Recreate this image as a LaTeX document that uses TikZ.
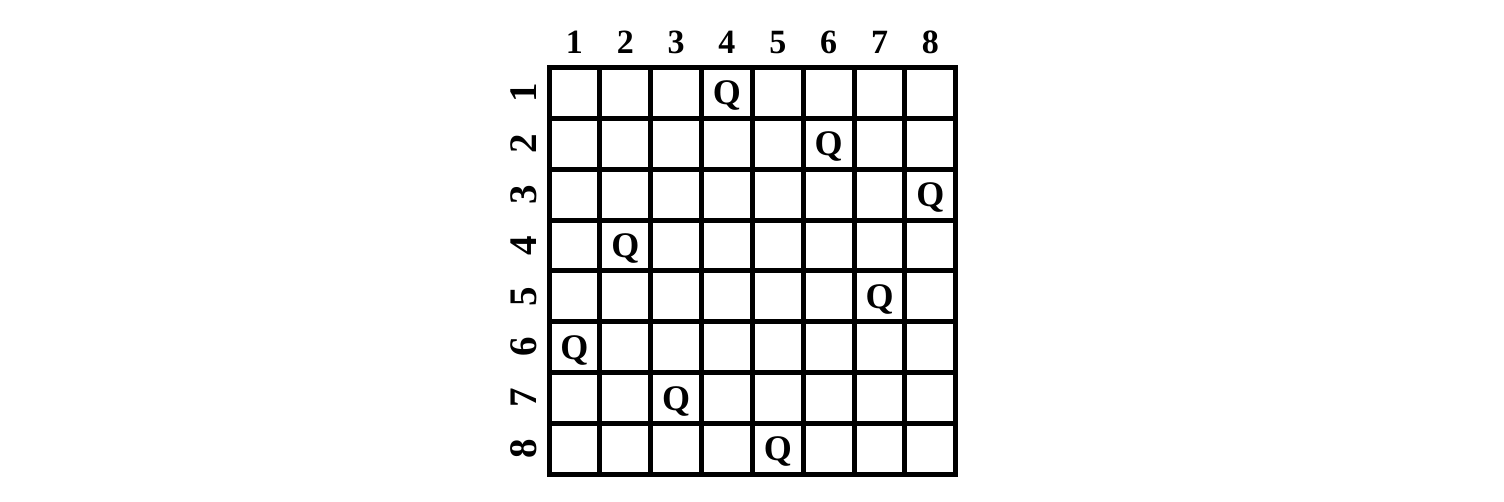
\documentclass[tikz,border=0pt]{standalone}
\usepackage{fontspec}
\setmainfont{Liberation Serif}
\begin{document}
\begin{tikzpicture}[x=1pt,y=-1pt,
  lbl/.style={font=\fontsize{34}{38}\selectfont\bfseries, inner sep=0pt},
  rlbl/.style={font=\fontsize{39}{42}\selectfont\bfseries, inner sep=0pt, rotate=90},
  qlbl/.style={font=\fontsize{36}{40}\selectfont\bfseries, inner sep=0pt},
  gridline/.style={line width=5pt, line cap=rect}]
\useasboundingbox (0,0) rectangle (1504,501);
\def\gx{549}\def\gy{67.5}\def\cs{50.85}
% grid
\foreach \i in {0,...,8}{
  \draw[gridline] ({\gx+\i*\cs},\gy) -- ({\gx+\i*\cs},{\gy+8*\cs});
  \draw[gridline] (\gx,{\gy+\i*\cs}) -- ({\gx+8*\cs},{\gy+\i*\cs});
}
% column labels
\foreach \c in {1,...,8}{
  \node[lbl, anchor=base] (col\c) at ({\gx+(\c-0.5)*\cs},53) {\c};
}
% row labels
\foreach \r in {1,...,8}{
  \node[rlbl] (row\r) at (524,{\gy+(\r-0.5)*\cs}) {\r};
}
% queens
\foreach \r/\c in {1/4,2/6,3/8,4/2,5/7,6/1,7/3,8/5}{
  \node[qlbl, anchor=base] (q\r) at ({\gx+(\c-0.5)*\cs},{\gy+(\r-0.5)*\cs+12}) {Q};
}
\end{tikzpicture}
\end{document}
